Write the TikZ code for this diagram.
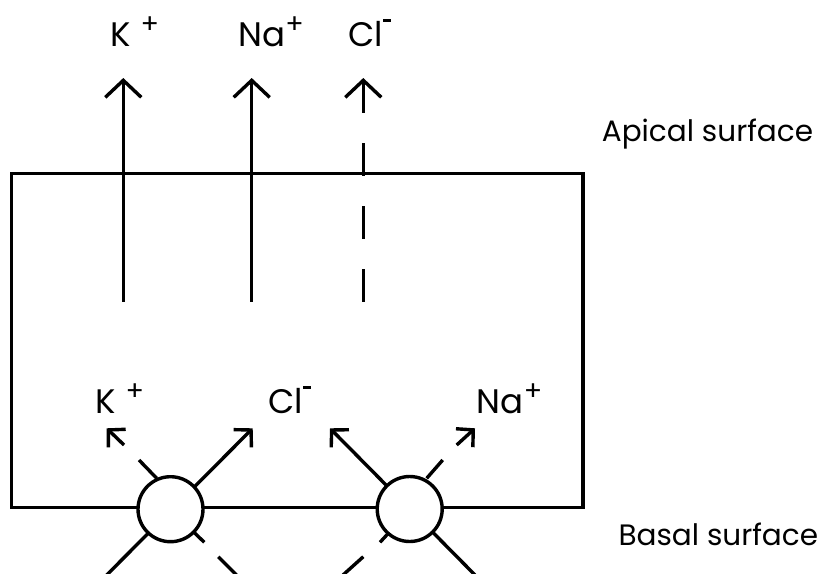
\documentclass[tikz,border=0pt]{standalone}
\usepackage{fontspec}
\setmainfont{Poppins}
\usetikzlibrary{arrows.meta}

\newcommand\plusup{\raisebox{13pt}{\fontsize{27}{27}\selectfont +}}
\newcommand\minusup{\rule[24.5pt]{8pt}{2.8pt}}

\begin{document}
\begin{tikzpicture}[
  x=1pt, y=-1pt,
  wall/.style={line width=3.4pt},
  flux/.style={line width=3.4pt, -{Straight Barb[length=17pt, width=36pt, line width=3.4pt]}},
  dflux/.style={line width=3.4pt, -{Straight Barb[length=12pt, width=25pt, line width=3.4pt]}},
  pump/.style={circle, draw, line width=3.4pt, fill=white, minimum size=65pt, inner sep=0pt},
  ion/.style={anchor=base west, inner sep=0pt, font=\fontsize{34}{36}\selectfont},
  side/.style={anchor=base west, inner sep=0pt, font=\fontsize{29.5}{34}\selectfont}
]
\useasboundingbox (0,0) rectangle (821,573);

\coordinate (nw) at (11.5,173.5);
\coordinate (se) at (583,507.7);
\draw[wall] (nw) rectangle (se);

\coordinate (kin) at (123.3,301.7);
\coordinate (kout) at (123.3,78);
\coordinate (nain) at (251.7,301.7);
\coordinate (naout) at (251.7,78);
\coordinate (clin) at (363.3,301.7);
\coordinate (clout) at (363.3,78);
\draw[flux] (kin) -- (kout);
\draw[flux] (nain) -- (naout);
\draw[flux, dash pattern=on 33pt off 30pt] (clin) -- (clout);

\coordinate (a1) at (106.7,575);
\coordinate (a1t) at (252.7,428.3);
\coordinate (a2) at (475,575);
\coordinate (a2t) at (330,428.3);
\draw[dflux] (a1) -- (a1t);
\draw[dflux] (a2) -- (a2t);

\draw[wall] (236.5,575) -- (218.3,556.7);
\draw[wall] (204.3,542.3) -- (193.3,531.7);
\draw[wall] (156.7,478.3) -- (139,460);
\coordinate (k1) at (124,445);
\coordinate (k1t) at (106.7,428.3);
\draw[dflux] (k1) -- (k1t);

\draw[wall] (343,575) -- (363.3,556.7);
\draw[wall] (380,542.3) -- (388.3,533.3);
\draw[wall] (426.7,478.3) -- (442.7,460);
\coordinate (n2) at (456.7,445);
\coordinate (n2t) at (475,428.3);
\draw[dflux] (n2) -- (n2t);

\node[pump] (p1) at (170.5,509.2) {};
\node[pump] (p2) at (409.7,509) {};

\node[ion] (ktop) at (110,46.7) {K\hspace{10pt}\plusup};
\node[ion] (natop) at (238.3,46.7) {Na\plusup};
\node[ion] (cltop) at (348.3,46.7) {Cl\minusup};
\node[ion] (kbas) at (95,413) {K\hspace{10pt}\plusup};
\node[ion] (clbas) at (268.3,413) {Cl\minusup};
\node[ion] (nabas) at (476.7,413) {Na\plusup};

\node[side] (apical) at (601.7,141.7) {Apical surface};
\node[side] (basal) at (618.3,545) {Basal surface};
\end{tikzpicture}
\end{document}
